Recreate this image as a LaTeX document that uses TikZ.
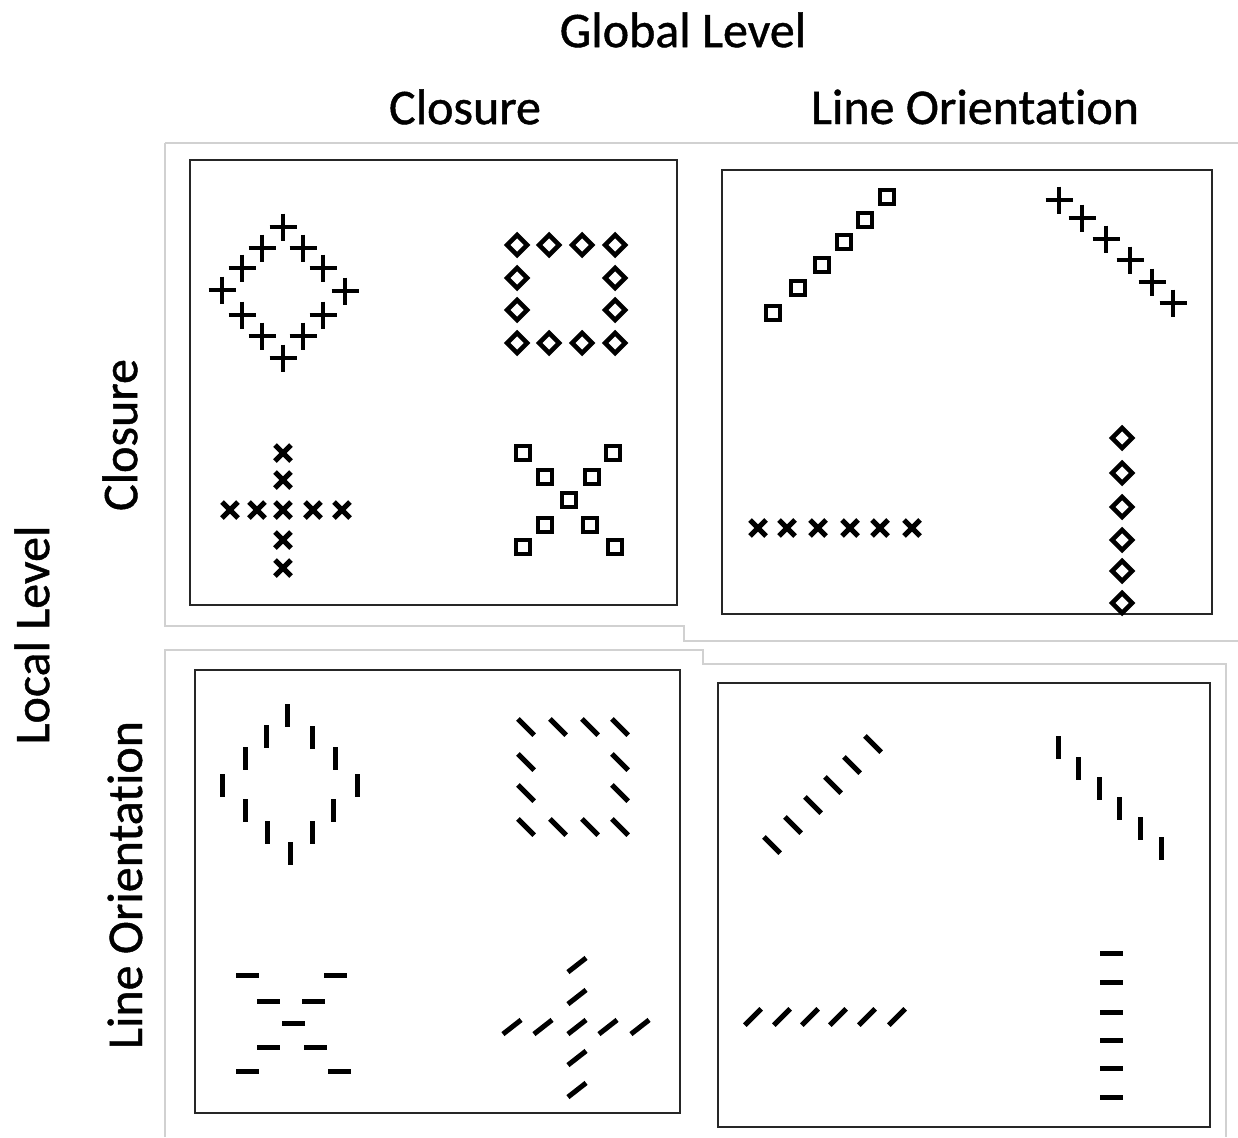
\documentclass[tikz,border=0pt]{standalone}
\usepackage{fontspec}
\setmainfont[Ligatures=NoCommon, FakeBold=0.9]{Carlito}
\usepackage{tikz}
\usetikzlibrary{positioning}
\newcommand{\plussym}[2]{\draw[sym] (#1-13.5,#2) -- (#1+13.5,#2) (#1,#2-13.5) -- (#1,#2+13.5);}
\newcommand{\crosssym}[2]{\draw[sym, line width=5pt] (#1-8,#2-8) -- (#1+8,#2+8) (#1-8,#2+8) -- (#1+8,#2-8);}
\newcommand{\diasym}[2]{\draw[sym] (#1-10,#2) -- (#1,#2-10) -- (#1+10,#2) -- (#1,#2+10) -- cycle;}
\newcommand{\sqsym}[2]{\draw[sym] (#1-7,#2-7) rectangle (#1+7,#2+7);}
\newcommand{\barsym}[3]{\draw[bar] (#1,#2) ++(#3:11.5) -- ++(#3+180:23);}

\begin{document}
\begin{tikzpicture}[x=1pt, y=-1pt,
  panel/.style={draw=black!85, line width=2pt, inner sep=0pt},
  frame/.style={draw=black!18, line width=1.5pt},
  sym/.style={line width=4.6pt, black},
  bar/.style={line width=5pt, black},
  lbl/.style={font=\fontsize{50}{54}\selectfont, inner sep=0pt}
]
\useasboundingbox (0,0) rectangle (1238,1137);

% faint outer frames
\draw[frame] (165,143) -- (1238,143) (165,143) -- (165,626) -- (684,626) -- (684,641) -- (1238,641);
\draw[frame] (165,1137) -- (165,650) -- (703,650) -- (703,664) -- (1226,664) -- (1226,1137);

% panels
\node[panel, minimum width=487pt, minimum height=445pt] (tl) at (433.5,382.5) {};
\node[panel, minimum width=490pt, minimum height=444pt] (tr) at (967,392) {};
\node[panel, minimum width=485pt, minimum height=443pt] (bl) at (437.5,891.5) {};
\node[panel, minimum width=492pt, minimum height=444pt] (br) at (964,905) {};

% headings
\node[lbl] (glob) at (683,30) {Global Level};
\node[lbl] (colclo) at (465,107) {Closure};
\node[lbl] (colline) at (975,107) {Line Orientation};
\node[lbl, rotate=90] (rowclo) at (120,435) {Closure};
\node[lbl, rotate=90] (loc) at (32,635) {Local Level};
\node[lbl, rotate=90] (rowline) at (125,885) {Line Orientation};

% closure / closure
\foreach \x/\y in {283/227, 303/248, 323/268, 345/291, 323/315, 303/336,
                   283/358, 262/336, 242/315, 222/290, 242/268, 262/248}
  {\plussym{\x}{\y}}
\foreach \x in {517,549,582,615} {\diasym{\x}{245} \diasym{\x}{343}}
\foreach \y in {278,310} {\diasym{517}{\y} \diasym{615}{\y}}
\foreach \y in {453,480,540,568} {\crosssym{283}{\y}}
\foreach \x in {230,257,283,313,342} {\crosssym{\x}{510}}
\foreach \x/\y in {523/453, 613/453, 545/477, 592/477, 569/500,
                   545/525, 590/525, 523/547, 615/547}
  {\sqsym{\x}{\y}}

% closure / line orientation
\foreach \x/\y in {773/313, 798/288, 822/265, 844/242, 865/220, 887/197}
  {\sqsym{\x}{\y}}
\foreach \x/\y in {1059/200, 1082/218, 1106/239, 1130/260, 1152/282, 1173/303}
  {\plussym{\x}{\y}}
\foreach \x in {758,787,818,850,880,912} {\crosssym{\x}{528}}
\foreach \y in {438,473,507,540,571,603} {\diasym{1122}{\y}}

% line orientation / closure
\foreach \x/\y in {287/715, 312/737, 335/758, 357/785, 333/810, 312/832,
                   290/853, 267/832, 245/810, 222/785, 245/758, 266/736}
  {\barsym{\x}{\y}{90}}
\foreach \x in {526,558,590,620} {\barsym{\x}{727}{45} \barsym{\x}{827}{45}}
\foreach \y in {762,793} {\barsym{526}{\y}{45} \barsym{620}{\y}{45}}
\foreach \x/\y in {247/975, 335/975, 268/1001, 313/1001, 293/1023,
                   268/1047, 315/1047, 247/1071, 339/1071}
  {\barsym{\x}{\y}{0}}
\foreach \y in {965,997,1058,1090} {\barsym{577}{\y}{-38}}
\foreach \x in {512,543,577,608,640} {\barsym{\x}{1027}{-38}}

% line orientation / line orientation
\foreach \x/\y in {772/845, 793/825, 813/805, 833/785, 852/765, 873/744}
  {\barsym{\x}{\y}{45}}
\foreach \x/\y in {1058/747, 1078/768, 1099/788, 1119/808, 1140/828, 1161/848}
  {\barsym{\x}{\y}{90}}
\foreach \x in {753,782,810,838,867,897} {\barsym{\x}{1017}{-45}}
\foreach \y in {953,982,1012,1040,1068,1097} {\barsym{1111}{\y}{0}}
\end{tikzpicture}
\end{document}
